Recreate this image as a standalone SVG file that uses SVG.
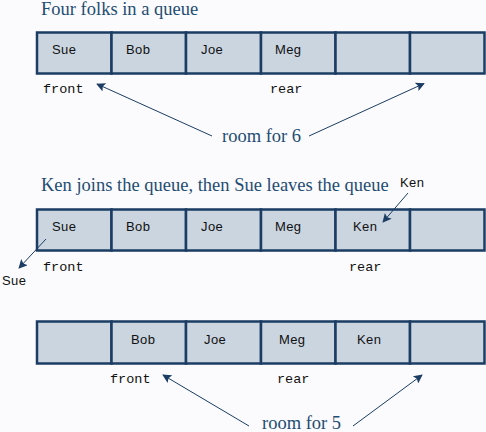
<svg xmlns="http://www.w3.org/2000/svg" width="486" height="432" viewBox="0 0 486 432">
<defs>
<marker id="ah" viewBox="0 0 10 10" refX="9" refY="5" markerWidth="11" markerHeight="9" markerUnits="userSpaceOnUse" orient="auto">
<path d="M0,0 L10,5 L0,10 L2,5 Z" fill="#1b3d63"/>
</marker>
<style>
.bg{fill:#fbfbfd}
.cell{fill:#cad5e0;stroke:#1b3d63;stroke-width:2.5}
.name{font-family:"Liberation Sans",Arial,sans-serif;font-size:13px;fill:#111;letter-spacing:0.4px}
.mono{font-family:"Liberation Mono","Courier New",monospace;font-size:13.5px;fill:#111}
.title{font-family:"Liberation Serif","Times New Roman",serif;font-size:18.5px;fill:#1f4d72}
.conn{stroke:#1b3d63;stroke-width:1;fill:none;marker-end:url(#ah)}
</style>
</defs>
<rect class="bg" x="0" y="0" width="486" height="432"/>

<g id="title1"><text class="title" x="41" y="14.5">Four folks in a queue</text></g>
<g id="queue1">
<rect class="cell" x="37" y="32.5" width="74.5" height="41"/>
<rect class="cell" x="111.5" y="32.5" width="74.5" height="41"/>
<rect class="cell" x="186" y="32.5" width="75" height="41"/>
<rect class="cell" x="261" y="32.5" width="74.5" height="41"/>
<rect class="cell" x="335.5" y="32.5" width="74.5" height="41"/>
<rect class="cell" x="410" y="32.5" width="74.5" height="41"/>
<text class="name" x="52" y="54">Sue</text>
<text class="name" x="126" y="54">Bob</text>
<text class="name" x="201" y="54">Joe</text>
<text class="name" x="275" y="54">Meg</text>
</g>
<g id="labels1">
<text class="mono" x="43" y="93">front</text>
<text class="mono" x="270" y="93">rear</text>
<text class="title" x="222" y="142">room for 6</text>
</g>

<g id="title2"><text class="title" x="41" y="191">Ken joins the queue, then Sue leaves the queue</text></g>
<g id="queue2">
<rect class="cell" x="37" y="209.5" width="74.5" height="41"/>
<rect class="cell" x="111.5" y="209.5" width="74.5" height="41"/>
<rect class="cell" x="186" y="209.5" width="75" height="41"/>
<rect class="cell" x="261" y="209.5" width="74.5" height="41"/>
<rect class="cell" x="335.5" y="209.5" width="74.5" height="41"/>
<rect class="cell" x="410" y="209.5" width="74.5" height="41"/>
<text class="name" x="52" y="231">Sue</text>
<text class="name" x="126" y="231">Bob</text>
<text class="name" x="201" y="231">Joe</text>
<text class="name" x="275" y="231">Meg</text>
<text class="name" x="353" y="231">Ken</text>
</g>
<g id="labels2">
<text class="mono" x="43" y="271">front</text>
<text class="mono" x="349" y="271">rear</text>
<text class="name" x="400" y="187">Ken</text>
<text class="name" x="2" y="285">Sue</text>
</g>

<g id="queue3">
<rect class="cell" x="37" y="321.5" width="74.5" height="42"/>
<rect class="cell" x="111.5" y="321.5" width="74.5" height="42"/>
<rect class="cell" x="186" y="321.5" width="75" height="42"/>
<rect class="cell" x="261" y="321.5" width="74.5" height="42"/>
<rect class="cell" x="335.5" y="321.5" width="74.5" height="42"/>
<rect class="cell" x="410" y="321.5" width="74.5" height="42"/>
<text class="name" x="131" y="344">Bob</text>
<text class="name" x="204" y="344">Joe</text>
<text class="name" x="279" y="344">Meg</text>
<text class="name" x="357" y="344">Ken</text>
</g>
<g id="labels3">
<text class="mono" x="110" y="383">front</text>
<text class="mono" x="277" y="383">rear</text>
<text class="title" x="262" y="428.5">room for 5</text>
</g>

<g id="connectors">
<line class="conn" x1="212" y1="136" x2="97" y2="84"/>
<line class="conn" x1="309" y1="136" x2="424" y2="83.5"/>
<line class="conn" x1="408" y1="193" x2="383" y2="222"/>
<line class="conn" x1="46" y1="239" x2="19" y2="268"/>
<line class="conn" x1="249" y1="426" x2="163" y2="375"/>
<line class="conn" x1="353" y1="426" x2="422" y2="375"/>
</g>
</svg>
